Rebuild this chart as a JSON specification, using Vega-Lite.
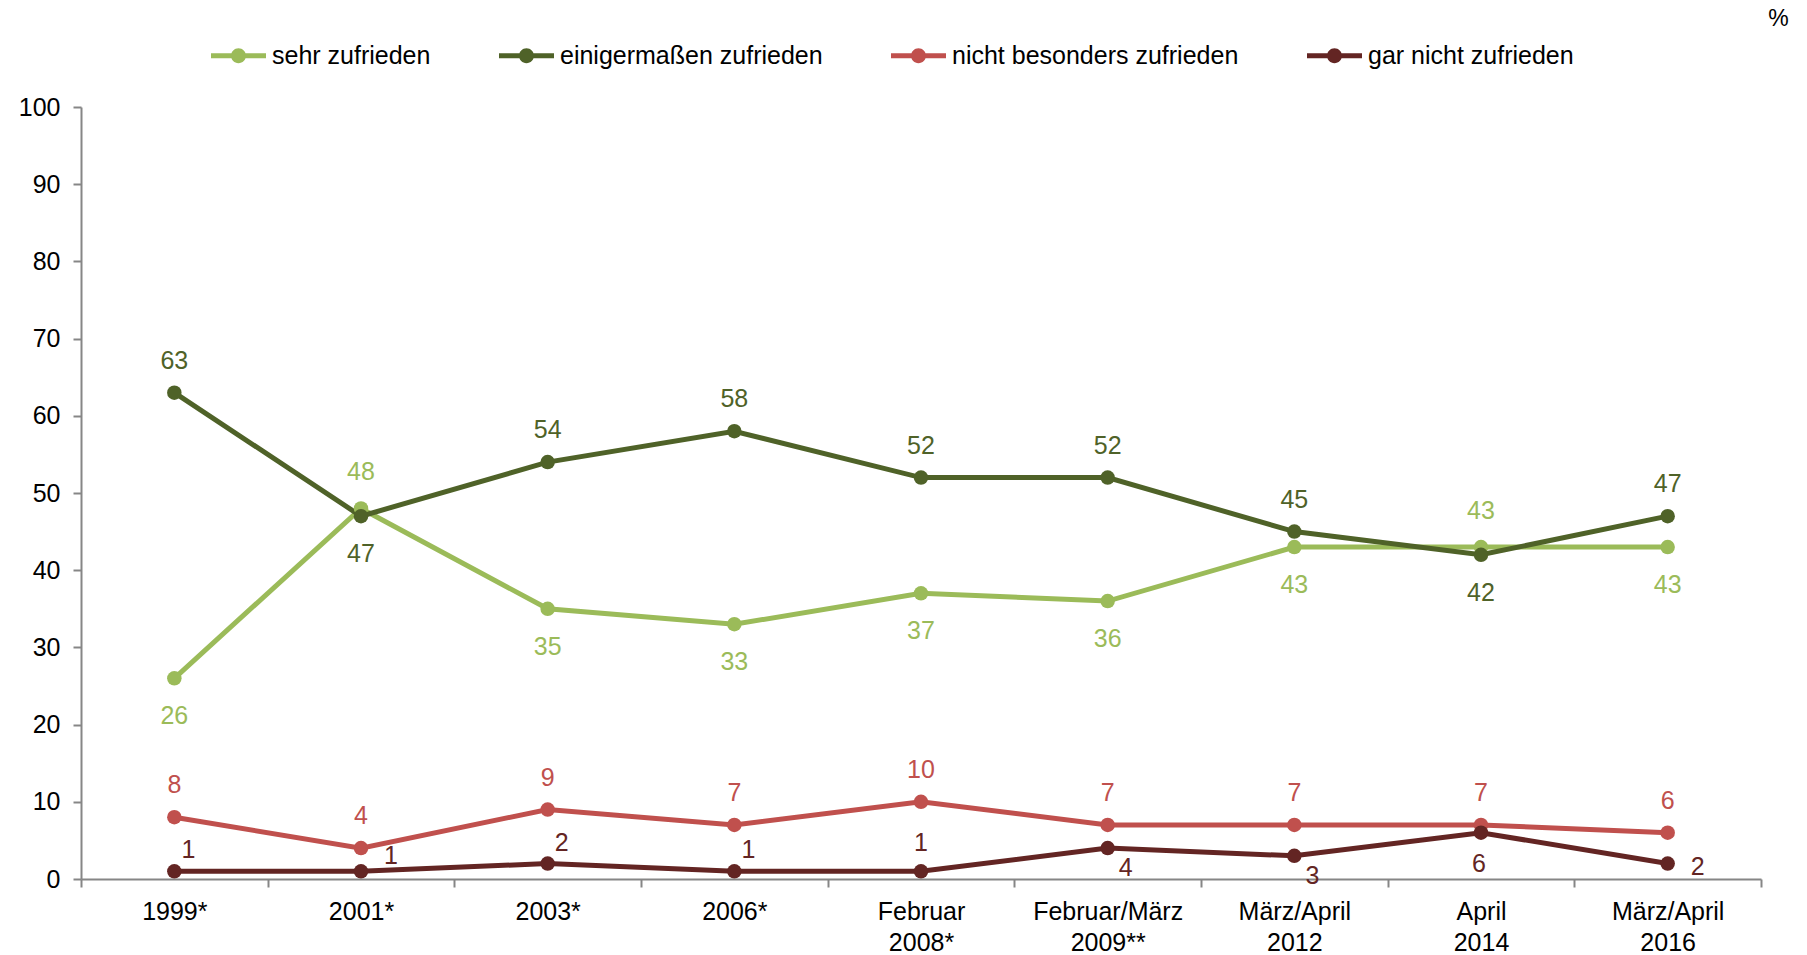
{
  "$schema": "https://vega.github.io/schema/vega-lite/v6.json",
  "width": 1680,
  "height": 772,
  "autosize": "none",
  "padding": {"left": 81, "top": 107, "right": 46, "bottom": 76},
  "config": {"font": "Liberation Sans", "view": {"stroke": null}},
  "data": {"values": [
    {"period": "1999*", "series": "sehr zufrieden", "value": 26},
    {"period": "2001*", "series": "sehr zufrieden", "value": 48},
    {"period": "2003*", "series": "sehr zufrieden", "value": 35},
    {"period": "2006*", "series": "sehr zufrieden", "value": 33},
    {"period": "Februar 2008*", "series": "sehr zufrieden", "value": 37},
    {"period": "Februar/März 2009**", "series": "sehr zufrieden", "value": 36},
    {"period": "März/April 2012", "series": "sehr zufrieden", "value": 43},
    {"period": "April 2014", "series": "sehr zufrieden", "value": 43},
    {"period": "März/April 2016", "series": "sehr zufrieden", "value": 43},
    {"period": "1999*", "series": "einigermaßen zufrieden", "value": 63},
    {"period": "2001*", "series": "einigermaßen zufrieden", "value": 47},
    {"period": "2003*", "series": "einigermaßen zufrieden", "value": 54},
    {"period": "2006*", "series": "einigermaßen zufrieden", "value": 58},
    {"period": "Februar 2008*", "series": "einigermaßen zufrieden", "value": 52},
    {"period": "Februar/März 2009**", "series": "einigermaßen zufrieden", "value": 52},
    {"period": "März/April 2012", "series": "einigermaßen zufrieden", "value": 45},
    {"period": "April 2014", "series": "einigermaßen zufrieden", "value": 42},
    {"period": "März/April 2016", "series": "einigermaßen zufrieden", "value": 47},
    {"period": "1999*", "series": "nicht besonders zufrieden", "value": 8},
    {"period": "2001*", "series": "nicht besonders zufrieden", "value": 4},
    {"period": "2003*", "series": "nicht besonders zufrieden", "value": 9},
    {"period": "2006*", "series": "nicht besonders zufrieden", "value": 7},
    {"period": "Februar 2008*", "series": "nicht besonders zufrieden", "value": 10},
    {"period": "Februar/März 2009**", "series": "nicht besonders zufrieden", "value": 7},
    {"period": "März/April 2012", "series": "nicht besonders zufrieden", "value": 7},
    {"period": "April 2014", "series": "nicht besonders zufrieden", "value": 7},
    {"period": "März/April 2016", "series": "nicht besonders zufrieden", "value": 6},
    {"period": "1999*", "series": "gar nicht zufrieden", "value": 1},
    {"period": "2001*", "series": "gar nicht zufrieden", "value": 1},
    {"period": "2003*", "series": "gar nicht zufrieden", "value": 2},
    {"period": "2006*", "series": "gar nicht zufrieden", "value": 1},
    {"period": "Februar 2008*", "series": "gar nicht zufrieden", "value": 1},
    {"period": "Februar/März 2009**", "series": "gar nicht zufrieden", "value": 4},
    {"period": "März/April 2012", "series": "gar nicht zufrieden", "value": 3},
    {"period": "April 2014", "series": "gar nicht zufrieden", "value": 6},
    {"period": "März/April 2016", "series": "gar nicht zufrieden", "value": 2}
  ]},
  "encoding": {
    "x": {
      "field": "period", "type": "nominal", "sort": null,
      "scale": {"type": "band", "paddingInner": 0, "paddingOuter": 0},
      "axis": {
        "title": null, "labelExpr": "split(datum.label, ' ')", "labelAngle": 0,
        "labelFontSize": 25, "labelColor": "#000000", "labelPadding": 12, "labelLineHeight": 31,
        "domainColor": "#868686", "domainWidth": 2, "tickColor": "#868686", "tickWidth": 2,
        "tickSize": 8, "tickBand": "extent", "grid": false
      }
    },
    "y": {
      "field": "value", "type": "quantitative",
      "scale": {"domain": [0, 100], "nice": false},
      "axis": {
        "values": [0, 10, 20, 30, 40, 50, 60, 70, 80, 90, 100],
        "labelFontSize": 25, "labelColor": "#000000", "labelPadding": 13,
        "domainColor": "#868686", "domainWidth": 2, "tickColor": "#868686", "tickWidth": 2,
        "tickSize": 8, "grid": false,
        "title": "%", "titleAngle": 0, "titleX": 1697, "titleY": -89,
        "titleFontSize": 23, "titleFontWeight": "normal", "titleColor": "#000000",
        "titleAlign": "center", "titleBaseline": "middle"
      }
    },
    "color": {
      "field": "series", "type": "nominal",
      "scale": {
        "domain": ["sehr zufrieden", "einigermaßen zufrieden", "nicht besonders zufrieden", "gar nicht zufrieden"],
        "range": ["#9BBB59", "#4F6228", "#C0504D", "#632523"]
      },
      "legend": {
        "orient": "none", "legendX": 130, "legendY": -79, "direction": "horizontal", "columns": 4,
        "title": null,
        "symbolType": "M -1 -0.09 H 1 V 0.09 H -1 Z M 0.27 0 A 0.27 0.27 0 1 1 -0.27 0 A 0.27 0.27 0 1 1 0.27 0 Z",
        "symbolSize": 3025, "symbolStrokeWidth": 0, "symbolOpacity": 1,
        "labelFontSize": 25, "labelColor": "#000000", "labelLimit": 500, "columnPadding": 68, "labelOffset": 6,
        "encode": {"symbols": {"update": {"fill": {"scale": "color", "field": "value"}, "strokeWidth": {"value": 0}, "opacity": {"value": 1}}}}
      }
    }
  },
  "layer": [
    {"mark": {"type": "line", "strokeWidth": 5}},
    {"mark": {"type": "point", "filled": true, "size": 210, "opacity": 1}},
    {
      "transform": [{"filter": "datum.series == 'nicht besonders zufrieden' || (datum.series == 'einigermaßen zufrieden' && datum.period != '2001*' && datum.period != 'April 2014')"}],
      "mark": {"type": "text", "fontSize": 25, "baseline": "middle", "align": "center", "dy": -32},
      "encoding": {"text": {"field": "value"}}
    },
    {
      "transform": [{"filter": "datum.series == 'sehr zufrieden' && (datum.period == '2001*' || datum.period == 'April 2014')"}],
      "mark": {"type": "text", "fontSize": 25, "baseline": "middle", "align": "center", "dy": -36},
      "encoding": {"text": {"field": "value"}}
    },
    {
      "transform": [{"filter": "(datum.series == 'sehr zufrieden' && datum.period != '2001*' && datum.period != 'April 2014') || (datum.series == 'einigermaßen zufrieden' && (datum.period == '2001*' || datum.period == 'April 2014'))"}],
      "mark": {"type": "text", "fontSize": 25, "baseline": "middle", "align": "center", "dy": 38},
      "encoding": {"text": {"field": "value"}}
    },
    {
      "transform": [{"filter": "datum.series == 'gar nicht zufrieden' && (datum.period == '1999*' || datum.period == '2003*' || datum.period == '2006*')"}],
      "mark": {"type": "text", "fontSize": 25, "baseline": "middle", "align": "center", "dx": 14, "dy": -21},
      "encoding": {"text": {"field": "value"}}
    },
    {
      "transform": [{"filter": "datum.series == 'gar nicht zufrieden' && datum.period == '2001*'"}],
      "mark": {"type": "text", "fontSize": 25, "baseline": "middle", "align": "center", "dx": 30, "dy": -15},
      "encoding": {"text": {"field": "value"}}
    },
    {
      "transform": [{"filter": "datum.series == 'gar nicht zufrieden' && datum.period == 'Februar 2008*'"}],
      "mark": {"type": "text", "fontSize": 25, "baseline": "middle", "align": "center", "dx": 0, "dy": -28},
      "encoding": {"text": {"field": "value"}}
    },
    {
      "transform": [{"filter": "datum.series == 'gar nicht zufrieden' && (datum.period == 'Februar/März 2009**' || datum.period == 'März/April 2012')"}],
      "mark": {"type": "text", "fontSize": 25, "baseline": "middle", "align": "center", "dx": 18, "dy": 20},
      "encoding": {"text": {"field": "value"}}
    },
    {
      "transform": [{"filter": "datum.series == 'gar nicht zufrieden' && datum.period == 'April 2014'"}],
      "mark": {"type": "text", "fontSize": 25, "baseline": "middle", "align": "center", "dx": -2, "dy": 31},
      "encoding": {"text": {"field": "value"}}
    },
    {
      "transform": [{"filter": "datum.series == 'gar nicht zufrieden' && datum.period == 'März/April 2016'"}],
      "mark": {"type": "text", "fontSize": 25, "baseline": "middle", "align": "center", "dx": 30, "dy": 3},
      "encoding": {"text": {"field": "value"}}
    }
  ]
}
